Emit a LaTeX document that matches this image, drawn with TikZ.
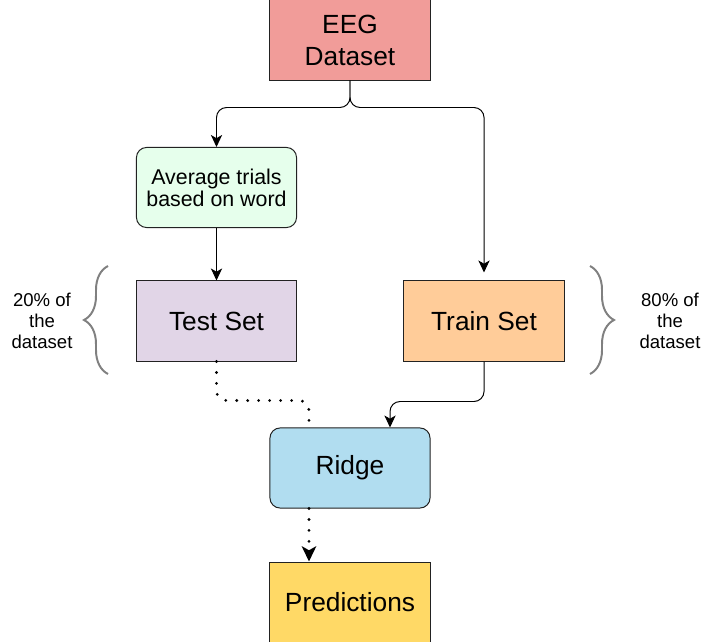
\documentclass[tikz,border=0pt]{standalone}
\usepackage{fontspec}
\setmainfont{Liberation Sans}
\usetikzlibrary{arrows.meta}
\usetikzlibrary{decorations.pathreplacing}

\definecolor{eegred}{HTML}{F19C99}
\definecolor{avggreen}{HTML}{E6FFEC}
\definecolor{testpurple}{HTML}{E1D5E7}
\definecolor{trainorange}{HTML}{FFCC99}
\definecolor{ridgeblue}{HTML}{B1DDF0}
\definecolor{predyellow}{HTML}{FFD966}
\definecolor{edgegray}{HTML}{222222}
\definecolor{bracegray}{HTML}{808080}

\tikzset{
  box/.style={draw=edgegray, line width=0.7pt, minimum width=4cm, minimum height=2cm,
    inner sep=0pt, align=center, font=\fontsize{18.7}{22.8}\selectfont},
  roundbox/.style={box, rounded corners=0.25cm},
  sidetext/.style={align=center, font=\fontsize{13.2}{15}\selectfont},
  bracket/.style={draw=bracegray, line width=1.4pt, decorate,
    decoration={brace, amplitude=0.6cm}},
  flow/.style={-{Stealth[length=0.3cm, width=0.28cm, inset=0.08cm]}, line width=0.7pt,
    rounded corners=0.25cm},
  dots/.style={line width=2.2pt, line cap=round, dash pattern=on 0pt off 7.8pt,
    rounded corners=0.25cm},
}

\begin{document}
\begin{tikzpicture}[x=0.025cm, y=-0.025cm]
\useasboundingbox (0,0) rectangle (702,642);
% boxes
\node[box, fill=eegred] (eeg) at (350,40) {EEG\\Dataset};
\node[roundbox, fill=avggreen, font=\fontsize{15.2}{15.6}\selectfont] (avg) at (216.5,187.5) {Average trials\\based on word};
\node[box, fill=testpurple] (test) at (216.5,321) {Test Set};
\node[box, fill=trainorange] (train) at (484,321) {Train Set};
\node[roundbox, fill=ridgeblue] (ridge) at (350,468) {Ridge};
\node[box, fill=predyellow] (pred) at (350,602) {Predictions};
% split sizes
\node[sidetext] (testshare) at (42,321) {20\% of\\the\\dataset};
\node[sidetext] (trainshare) at (670,321) {80\% of\\the\\dataset};
\draw[bracket] (108,374) -- (108,266);
\draw[bracket] (590,266) -- (590,374);
% flow
\draw[flow] (eeg.south) -- ++(0,27) -| (avg.north);
\draw[flow, shorten >=0.2cm] (eeg.south) -- ++(0,27) -| (train.north);
\draw[flow] (avg.south) -- (test.north);
\draw[flow] (train.south) -- ++(0,40) -| ([xshift=1cm]ridge.north);
\draw[dots] (test.south) -- ++(0,39) -| ([xshift=-1.025cm]ridge.north);
\draw[dots, -{Stealth[length=0.38cm, width=0.36cm, inset=0.1cm]}] ([xshift=-1.025cm]ridge.south) -- ([xshift=-1.025cm]pred.north);
\end{tikzpicture}
\end{document}
